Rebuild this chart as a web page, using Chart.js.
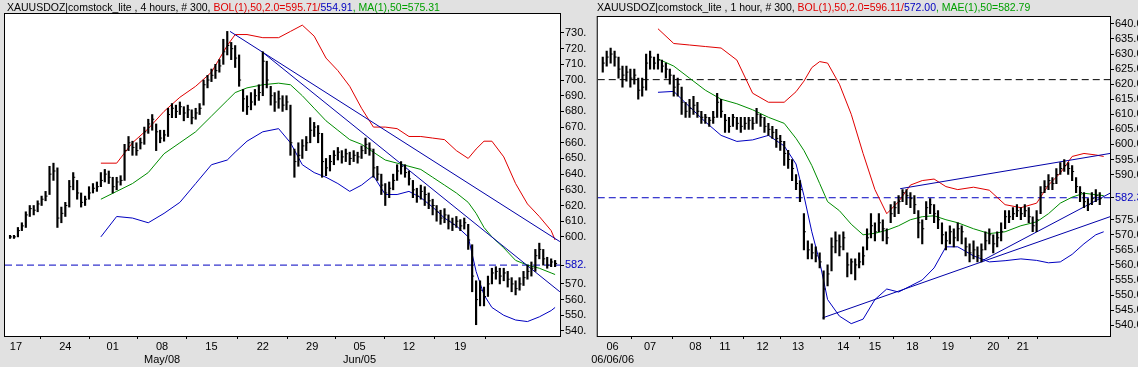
<!DOCTYPE html>
<html>
<head>
<meta charset="utf-8">
<script src="https://cdn.jsdelivr.net/npm/chart.js@4/dist/chart.umd.min.js"></script>
<style>
  body { margin: 0; background: #e1e1e1; width: 1138px; height: 367px; overflow: hidden; position: relative; font-family: "Liberation Sans", Arial, sans-serif; }
  canvas { position: absolute; top: 0; }
  #left { left: 0; }
  #right { left: 590px; }
  .ttl { position: absolute; top: 1px; font-size: 10.5px; white-space: nowrap; color: #000; }
  .r { color: #e00000; } .b { color: #0000c0; } .g { color: #00a000; }
</style>
</head>
<body>
<canvas id="left" width="588" height="367"></canvas>
<canvas id="right" width="548" height="367"></canvas>
<div class="ttl" style="left:7px">XAUUSDOZ|comstock_lite , 4 hours, # 300, <span class="r">BOL(1),50,2.0=595.71/</span><span class="b">554.91</span><span class="g">, MA(1),50=575.31</span></div>
<div class="ttl" style="left:597px">XAUUSDOZ|comstock_lite , 1 hour, # 300, <span class="r">BOL(1),50,2.0=596.11/</span><span class="b">572.00</span><span class="g">, MAE(1),50=582.79</span></div>
<script>
"use strict";

// ---- left panel: 4 hour bars ----
const leftDays = ["17", "24", "01", "08", "15", "22", "29", "05", "12", "19"];
const leftMonths = ["", "", "", "May/08", "", "", "", "Jun/05", "", ""];
const leftDayBar = [1.5, 14, 26, 38.5, 51, 64, 76.5, 88.5, 101, 114];
const leftYTicks = [540, 550, 560, 570, 582, 600, 610, 620, 630, 640, 650, 660, 670, 680, 690, 700, 710, 720, 730];

const leftHi = [601,601,606,609,616,620,620,623,626,629, 645,647,644,619,622,636,641,636,628,626,
  632,634,635,641,643,642,638,638,639,659, 664,661,660,663,670,675,678,672,668,668,
  682,685,684,686,683,684,681,682,685,700, 703,707,710,713,726,731,724,722,716,694,
  690,692,694,697,718,712,696,692,693,690, 690,684,656,660,662,664,676,673,671,666,
  650,652,655,657,655,656,654,655,654,658, 663,660,656,645,640,634,635,640,646,648,
  646,642,636,631,633,632,628,624,620,617, 618,614,612,613,611,612,608,595,572,572,
  568,575,580,581,580,580,578,574,572,574, 578,582,584,592,596,592,587,586,585];
const leftLo = [599,599,600,604,606,613,614,616,620,623, 627,636,606,609,613,619,630,624,619,620,
  624,628,629,632,635,634,628,630,633,636, 655,652,652,656,659,666,668,655,660,661,
  664,676,676,678,674,676,672,675,678,684, 695,699,701,705,710,716,713,708,696,680,
  678,681,684,687,690,695,684,680,682,680, 681,652,638,645,650,655,660,664,660,638,
  639,642,646,649,647,648,646,648,647,650, 653,652,638,636,627,620,625,630,636,640,
  638,633,625,622,624,620,618,614,610,608, 609,605,604,606,604,605,592,565,544,556,
  556,562,570,573,570,572,568,565,563,566, 569,573,575,578,586,582,580,581,581];
const leftCl = [600,600,604,607,614,618,617,621,624,626, 640,642,612,615,620,632,638,628,622,624,
  628,631,632,636,640,638,632,635,636,655, 660,657,655,660,667,672,675,667,663,665,
  678,682,680,683,679,681,676,679,682,697, 700,703,706,709,718,722,720,714,700,688,
  683,686,690,692,712,700,690,686,688,684, 686,660,648,652,658,660,668,670,666,648,
  644,648,652,654,651,653,650,652,651,655, 659,656,644,640,633,628,631,636,642,645,
  641,637,630,626,629,627,623,620,616,612, 614,610,608,610,607,609,598,575,560,566,
  562,570,577,578,575,577,573,570,567,570, 574,578,580,588,592,586,582,584,583];

const leftBandBar = [23,27,31,35,39,43,47,51,55,57,60,64,68,71,74,77,80,83,86,89,92,95,98,101,104,107,110,113,116,118,120,122,125,128,131,134,137,138];
const leftUpper = [647,647,660,669,680,689,696,705,722,729,729,727,727,731,735,728,714,706,696,682,670,670,669,664,664,663,662,655,650,656,661,661,651,634,621,613,604,598];
const leftMid = [624,629,634,641,653,660,667,677,687,692,695,697,698,697,690,682,674,668,662,659,654,649,647,645,643,638,633,628,622,615,606,600,593,585,582,580,577,576];
const leftLower = [600,613,612,609,615,622,634,646,649,654,661,667,669,660,646,641,638,634,629,633,639,627,627,629,625,619,612,607,600,578,563,555,550,547,546,549,553,555];

// trend lines: [startBar, startValue, endBar, endValue]
const leftTrends = [[55.7, 731, 139.2, 597], [63.8, 718, 139.2, 565]];
const leftLevels = [582];

// ---- right panel: 1 hour bars ----
const rightDays = ["06", "07", "08", "11", "12", "13", "14", "15", "18", "19", "20", "21"];
const rightMonths = ["06/06/06", "", "", "", "", "", "", "", "", "", "", ""];
const rightDayBar = [2.5, 12, 23.5, 31, 40.5, 49.5, 61, 69, 78.5, 87.5, 99, 106.5];
const rightYTicks = [540, 545, 550, 555, 560, 565, 570, 575, 582.3, 590, 595, 600, 605, 610, 615, 620, 625, 630, 635, 640];

const rightHi = [629,631,632,631,629,626,626,625,625,622, 622,630,631,629,630,628,627,625,623,622,
  619,614,615,616,614,611,610,609,611,617, 615,610,609,610,609,609,609,609,609,612,
  610,609,607,606,605,603,601,598,595,590, 588,577,568,567,566,564,558,560,569,571,
  570,571,564,562,562,564,566,572,577,574, 577,575,572,580,581,583,585,585,584,583,
  578,575,581,582,580,578,574,571,573,572, 574,573,569,567,568,566,567,571,572,570,
  571,574,578,578,579,580,579,580,579,576, 578,586,588,590,589,592,594,595,594,593,
  589,586,584,582,584,585,584];
const rightLo = [624,626,627,626,622,619,621,619,620,615, 616,618,625,625,625,624,622,620,616,616,
  610,609,609,610,609,607,607,606,607,609, 609,604,604,606,605,604,605,605,605,607,
  606,604,603,602,599,598,593,592,588,585, 581,565,562,562,561,559,542,553,558,564,
  563,565,556,557,555,559,560,565,569,568, 571,568,567,574,576,577,581,580,579,577,
  569,567,575,577,574,572,567,565,567,566, 568,567,563,561,562,561,561,565,567,564,
  566,568,572,574,575,576,575,576,574,571, 571,577,584,585,585,587,590,591,590,588,
  584,581,579,578,580,581,580];
const rightCl = [627,629,630,629,625,623,624,622,623,618, 619,627,629,627,628,626,625,623,619,620,
  614,611,612,613,611,609,609,608,609,614, 611,608,606,609,607,606,607,608,607,610,
  609,606,605,604,602,601,597,595,592,587, 585,571,565,564,563,561,552,557,566,568,
  566,569,560,561,560,561,563,569,573,571, 574,572,569,577,579,581,584,583,582,580,
  574,572,579,580,577,575,570,568,571,569, 572,571,566,564,565,563,565,568,570,567,
  569,571,576,576,577,578,577,578,576,573, 575,584,586,588,587,590,592,593,592,591,
  586,584,581,580,582,583,582];

const rightBandBar = [14,18,22,26,30,34,38,42,46,49,51,53,55,57,60,63,66,69,72,75,78,81,84,87,90,94,98,102,106,110,113,116,119,122,125,127];
const rightUpper = [638.4,633.5,633,632.5,632,628,617,614,614,617.5,621,625.5,627.5,627,620,610,597,585,577,581,586.5,588,588.5,586,585,585.8,584.8,580,579,580.5,586.5,590.5,596,597,596.5,596];
const rightMid = [628.4,626,622,618,615,613.5,611.5,609,607,602,598,593,587,581,578,573.5,570,570.5,571.5,573,575,576,576.3,575,574,572,570.4,571,573,574.3,577,580.5,582.5,583.8,583.3,583];
const rightLower = [617.3,617.6,612.5,607.5,603,601,601.5,603,599.5,593.5,583,571,561,548.5,543,540.5,542,548.5,552,551,553,555,559,566,566,563,561,561.4,562,561.5,560.7,561,563.5,567,570,571];

const rightTrends = [[55.7, 542.4, 128.6, 576], [96.2, 561.4, 128.6, 583.8], [75.4, 585.3, 128.6, 597]];
const rightLevels = [621.5, 582.3];

const RED = "#e00000", GREEN = "#008c00", BLUE = "#0000c0", NAVY = "#0000a8";

Chart.defaults.font.family = '"Liberation Sans", Arial, sans-serif';
Chart.defaults.font.size = 11;
Chart.defaults.color = "#000";

const frame = {
  id: "frame",
  beforeDraw(chart) {
    const { ctx, chartArea: a } = chart;
    ctx.save();
    ctx.fillStyle = "#fff";
    ctx.fillRect(a.left, a.top, a.right - a.left, a.bottom - a.top);
    ctx.restore();
  },
  afterDraw(chart) {
    const { ctx, chartArea: a } = chart;
    ctx.save();
    ctx.strokeStyle = "#000";
    ctx.lineWidth = 1;
    ctx.strokeRect(a.left - 0.5, a.top - 0.5, a.right - a.left + 1, a.bottom - a.top + 1);
    ctx.restore();
  },
};

function line(data, color, extra) {
  return Object.assign({ type: "line", data, borderColor: color, borderWidth: 1, pointRadius: 0, tension: 0, fill: false }, extra || {});
}

function panel(id, p) {
  const bars = p.hi.map((h, i) => ({ x: i, y: [p.lo[i], h] }));
  const closes = p.cl.map((c, i) => ({ x: i, y: c }));
  const band = (vals) => p.bandBar.map((b, i) => ({ x: b, y: vals[i] }));

  const datasets = [
    { type: "bar", data: bars, backgroundColor: "#000", barThickness: 1.5, grouped: false },
    line(closes, "#000", { showLine: false, pointStyle: "dash", pointRadius: 2, pointHoverRadius: 2 }),
    ...p.trends.map((t) => line([{ x: t[0], y: t[1] }, { x: t[2], y: t[3] }], NAVY)),
    line(band(p.upper), RED),
    line(band(p.mid), GREEN),
    line(band(p.lower), BLUE),
    ...p.levels.map((v, i) => line([{ x: p.xMin, y: v }, { x: p.xMax, y: v }], p.levelColors[i], { borderDash: [7, 4] })),
  ];

  new Chart(document.getElementById(id), {
    type: "bar",
    data: { datasets },
    plugins: [frame],
    options: {
      responsive: false,
      animation: false,
      devicePixelRatio: 1,
      layout: { padding: { left: p.padLeft, top: p.padTop, right: 0, bottom: 0 } },
      plugins: { legend: { display: false }, tooltip: { enabled: false } },
      scales: {
        x: {
          type: "linear",
          min: p.xMin,
          max: p.xMax,
          offset: false,
          grid: { drawOnChartArea: false, tickLength: 3, color: "#000" },
          border: { display: false },
          ticks: {
            autoSkip: false,
            maxRotation: 0,
            padding: 1,
            callback: (v, i) => (p.months[i] ? [p.days[i], p.months[i]] : p.days[i]),
          },
          afterBuildTicks: (s) => { s.ticks = p.dayBar.map((v) => ({ value: v })); },
          afterFit: (s) => { s.height = 31; },
        },
        y: {
          position: "right",
          min: p.yMin,
          max: p.yMax,
          grid: { drawOnChartArea: false, tickLength: 4, color: "#000" },
          border: { display: false },
          ticks: {
            padding: 1,
            callback: p.yLabel,
            color: (c) => (p.levels.includes(c.tick.value) ? BLUE : "#000"),
          },
          afterBuildTicks: (s) => { s.ticks = p.yTicks.map((v) => ({ value: v })); },
          afterFit: (s) => { s.width = 28; },
        },
      },
    },
  });
}

panel("left", {
  hi: leftHi, lo: leftLo, cl: leftCl,
  bandBar: leftBandBar, upper: leftUpper, mid: leftMid, lower: leftLower,
  trends: leftTrends, levels: leftLevels, levelColors: [BLUE],
  days: leftDays, months: leftMonths, dayBar: leftDayBar, yTicks: leftYTicks,
  yLabel: (v) => v + ".",
  xMin: -1.27, xMax: 139.24, yMin: 536.8, yMax: 742.1,
  padLeft: 5, padTop: 14,
});

panel("right", {
  hi: rightHi, lo: rightLo, cl: rightCl,
  bandBar: rightBandBar, upper: rightUpper, mid: rightMid, lower: rightLower,
  trends: rightTrends, levels: rightLevels, levelColors: ["#000", BLUE],
  days: rightDays, months: rightMonths, dayBar: rightDayBar, yTicks: rightYTicks,
  yLabel: (v) => v.toFixed(2),
  xMin: -1.27, xMax: 128.6, yMin: 536.4, yMax: 642.3,
  padLeft: 7, padTop: 17,
});
</script>
</body>
</html>
